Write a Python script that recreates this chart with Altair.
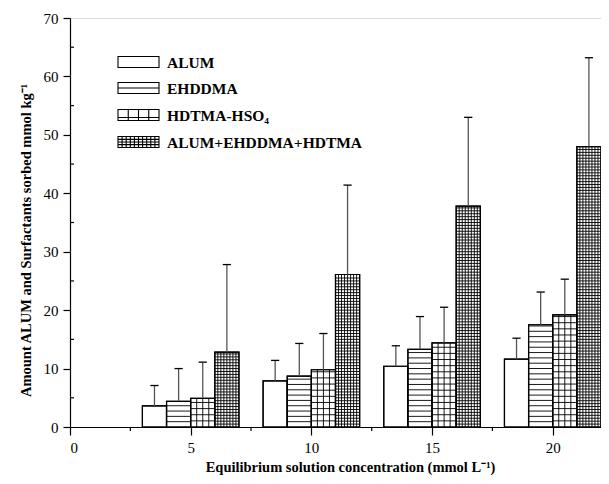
import altair as alt
import pandas as pd

# ---- data ----
groups = [5, 10, 15, 20]
series = ["ALUM", "EHDDMA", "HDTMA-HSO₄", "ALUM+EHDDMA+HDTMA"]
alum = [3.6, 7.9, 10.4, 11.6]
alum_sd = [3.5, 3.5, 3.5, 3.6]
ehddma = [4.4, 8.7, 13.3, 17.5]
ehddma_sd = [5.6, 5.6, 5.6, 5.6]
hdtma = [4.9, 9.8, 14.4, 19.2]
hdtma_sd = [6.2, 6.2, 6.1, 6.1]
combined = [12.8, 26.1, 37.8, 48.0]
combined_sd = [15.0, 15.3, 15.2, 15.2]

x_ticks = [0, 5, 10, 15, 20]
x_minor = [2.5, 7.5, 12.5, 17.5]
y_ticks = [0, 10, 20, 30, 40, 50, 60, 70]
y_minor = [5, 15, 25, 35, 45, 55, 65]

# ---- styling / layout ----
W, H = 531, 409
FONT = "Liberation Serif"
values = [alum, ehddma, hdtma, combined]
sds = [alum_sd, ehddma_sd, hdtma_sd, combined_sd]
# pattern: (horizontal step in data units or None, number of vertical columns)
patterns = [(None, 1), (0.91, 1), (1.05, 4), (0.5, 8)]

rows = []
for si, name in enumerate(series):
    for gi, g in enumerate(groups):
        left = g - 2 + si
        rows.append(dict(series=name, left=left, right=left + 1, center=left + 0.5,
                         value=values[si][gi], top=values[si][gi] + sds[si][gi],
                         capl=left + 0.5 - 0.17, capr=left + 0.5 + 0.17))
bars = pd.DataFrame(rows)

lines = []
for si, name in enumerate(series):
    step, ncol = patterns[si]
    for gi, g in enumerate(groups):
        left = g - 2 + si
        v = values[si][gi]
        if step:
            k = 1
            while k * step < v - 0.15:
                lines.append(dict(x=left, x2=left + 1, y=k * step, y2=k * step))
                k += 1
        for j in range(1, ncol):
            xx = left + j / ncol
            lines.append(dict(x=xx, x2=xx, y=0, y2=v))
lines = pd.DataFrame(lines)

xs = alt.Scale(domain=[0, 22], nice=False, zero=False)
ys = alt.Scale(domain=[0, 70], nice=False)

x_axis = alt.Axis(values=x_ticks, title="Equilibrium solution concentration (mmol L⁻¹)",
                  grid=False, tickSize=8, labelPadding=5, titlePadding=5, titleX=280,
                  labelFont=FONT, labelFontSize=15, titleFont=FONT, titleFontSize=14.5,
                  titleFontWeight="bold", domainColor="black", tickColor="black",
                  labelColor="black", titleColor="black", domainWidth=1.2, tickWidth=1.2)
y_axis = alt.Axis(values=y_ticks, title="Amount ALUM and Surfactants sorbed mmol kg⁻¹",
                  grid=False, tickSize=7, labelPadding=5, titlePadding=10, titleY=222,
                  labelFont=FONT, labelFontSize=15, titleFont=FONT, titleFontSize=14.5,
                  titleFontWeight="bold", domainColor="black", tickColor="black",
                  labelColor="black", titleColor="black", domainWidth=1.2, tickWidth=1.2)

base = alt.Chart(bars)
bar_layer = base.mark_rect(fill="white", stroke="black", strokeWidth=1.2).encode(
    x=alt.X("left:Q", scale=xs, axis=x_axis),
    x2="right:Q",
    y=alt.Y("value:Q", scale=ys, axis=y_axis),
    y2=alt.datum(0),
)
pattern_layer = alt.Chart(lines).mark_rule(color="black", strokeWidth=0.9).encode(
    x=alt.X("x:Q", scale=xs), x2="x2:Q", y=alt.Y("y:Q", scale=ys), y2="y2:Q"
)
outline_layer = base.mark_rect(fill="transparent", stroke="black", strokeWidth=1.2).encode(
    x=alt.X("left:Q", scale=xs), x2="right:Q", y=alt.Y("value:Q", scale=ys), y2=alt.datum(0)
)
stem = base.mark_rule(color="#555555", strokeWidth=1.3).encode(
    x=alt.X("center:Q", scale=xs), y=alt.Y("value:Q", scale=ys), y2="top:Q"
)
cap = base.mark_rule(color="black", strokeWidth=1.3).encode(
    x=alt.X("capl:Q", scale=xs), x2="capr:Q", y=alt.Y("top:Q", scale=ys)
)

xminor = alt.Chart(pd.DataFrame({"v": x_minor})).mark_rule(color="black", strokeWidth=1.2).encode(
    x=alt.X("v:Q", scale=xs), y=alt.value(H), y2=alt.value(H + 4)
)
yminor = alt.Chart(pd.DataFrame({"v": y_minor})).mark_rule(color="black", strokeWidth=1.2).encode(
    y=alt.Y("v:Q", scale=ys), x=alt.value(0), x2=alt.value(4)
)

# ---- legend (drawn manually inside plot area) ----
box = "M-1,-0.27H1V0.27H-1Z"
shapes = [
    box,
    box + "M-1,0H1",
    box + "M-0.5,-0.27V0.27M0,-0.27V0.27M0.5,-0.27V0.27M-1,0.12H1",
    box + "".join(f"M{x:.1f},-0.27V0.27" for x in [-0.8, -0.6, -0.4, -0.2, 0, 0.2, 0.4, 0.6, 0.8])
        + "M-1,-0.13H1M-1,0H1M-1,0.13H1",
]
leg_y = [44, 70, 97, 124]
legend_layers = []
for i, name in enumerate(series):
    legend_layers.append(
        alt.Chart(pd.DataFrame({"label": [name]})).mark_point(
            shape=shapes[i], size=1681, filled=True, fill="white", stroke="black",
            strokeWidth=1.1, opacity=1
        ).encode(x=alt.value(68.5), y=alt.value(leg_y[i]))
    )
    legend_layers.append(
        alt.Chart(pd.DataFrame({"label": [name]})).mark_text(
            align="left", baseline="middle", font=FONT, fontSize=15.5,
            fontWeight="bold", color="black"
        ).encode(x=alt.value(97), y=alt.value(leg_y[i] + 1), text="label:N")
    )

chart = alt.layer(
    bar_layer, pattern_layer, outline_layer, stem, cap, xminor, yminor, *legend_layers
).properties(
    width=W, height=H,
    autosize=alt.AutoSizeParams(type="none"),
    padding={"left": 62, "top": 10, "right": 0, "bottom": 48},
).configure_view(stroke=None).configure(background="white")

chart.save("out.html", embed_options={"renderer": "svg", "actions": False})
